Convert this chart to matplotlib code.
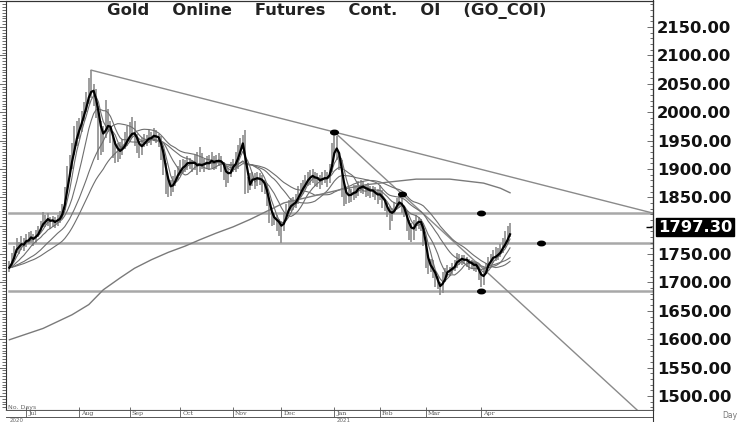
import numpy as np
import pandas as pd
import matplotlib
matplotlib.use("Agg")
import matplotlib.pyplot as plt
from matplotlib.path import Path
from matplotlib.transforms import Affine2D, blended_transform_factory
from matplotlib.lines import Line2D
from matplotlib.ticker import MultipleLocator

# ---- data (daily bars, Jun 2020 - Apr 2021) ----
holidays = ["2020-07-03", "2020-09-07", "2020-11-26", "2020-12-25",
            "2021-01-01", "2021-01-18", "2021-02-15", "2021-04-02"]
days = pd.bdate_range("2020-06-22", "2021-04-20")
days = days[~days.isin(pd.to_datetime(holidays))]

closes = [
    1726, 1748, 1757, 1768, 1762, 1772, 1766, 1780, 1776, 1782,
    1773, 1786, 1795, 1800, 1812, 1808, 1815, 1803, 1810, 1806,
    1812, 1818, 1830, 1860, 1895, 1905, 1935, 1955, 1968, 1978,
    1992, 2010, 2022, 2045, 2040, 2028, 2002, 1975, 1950, 1962,
    1990, 1975, 1958, 1944, 1930, 1935, 1930, 1940, 1952, 1955,
    1962, 1968, 1958, 1940, 1935, 1945, 1952, 1950, 1958, 1955,
    1962, 1955, 1950, 1930, 1905, 1875, 1868, 1865, 1880, 1890,
    1895, 1900, 1910, 1905, 1915, 1912, 1905, 1915, 1900, 1908,
    1912, 1905, 1915, 1910, 1918, 1908, 1915, 1920, 1905, 1902,
    1880, 1895, 1905, 1910, 1910, 1935, 1948, 1952, 1862, 1875,
    1880, 1888, 1878, 1885, 1885, 1872, 1868, 1848, 1818, 1812,
    1815, 1805, 1800, 1795, 1815, 1830, 1835, 1838, 1840, 1845,
    1860, 1865, 1870, 1880, 1888, 1885, 1890, 1880, 1882, 1878,
    1885, 1888, 1878, 1900, 1935, 1948, 1925, 1910, 1870, 1850,
    1855, 1856, 1852, 1865, 1860, 1870, 1872, 1865, 1862, 1866,
    1858, 1862, 1855, 1848, 1862, 1840, 1832, 1828, 1815, 1825,
    1838, 1840, 1845, 1830, 1822, 1805, 1790, 1795, 1800, 1812,
    1808, 1800, 1775, 1735, 1722, 1735, 1715, 1700, 1698, 1683,
    1712, 1720, 1722, 1720, 1730, 1732, 1745, 1738, 1742, 1740,
    1738, 1730, 1735, 1728, 1730, 1712, 1700, 1722, 1728, 1740,
    1742, 1748, 1745, 1752, 1760, 1768, 1772, 1785, 1797.3,
]
highs = [
    1738, 1752, 1765, 1779, 1772, 1782, 1778, 1786, 1788, 1790,
    1786, 1792, 1800, 1808, 1824, 1818, 1822, 1816, 1817, 1815,
    1818, 1825, 1838, 1868, 1905, 1925, 1945, 1975, 1985, 1990,
    2002, 2018, 2035, 2060, 2074, 2050, 2040, 2010, 1985, 1975,
    2021, 2005, 1985, 1960, 1950, 1945, 1948, 1952, 1965, 1975,
    1982, 1992, 1985, 1962, 1950, 1955, 1962, 1960, 1968, 1965,
    1972, 1968, 1962, 1958, 1935, 1910, 1885, 1880, 1888, 1898,
    1905, 1915, 1918, 1915, 1922, 1920, 1916, 1925, 1930, 1939,
    1928, 1918, 1922, 1925, 1930, 1922, 1925, 1928, 1922, 1912,
    1905, 1902, 1912, 1918, 1930, 1942, 1955, 1960, 1969, 1885,
    1892, 1895, 1892, 1895, 1892, 1890, 1880, 1875, 1845, 1825,
    1822, 1818, 1812, 1808, 1822, 1838, 1845, 1848, 1850, 1855,
    1870, 1875, 1880, 1890, 1895, 1898, 1900, 1895, 1892, 1890,
    1895, 1898, 1895, 1908, 1945, 1965, 1958, 1930, 1915, 1875,
    1865, 1868, 1865, 1872, 1872, 1878, 1880, 1878, 1872, 1875,
    1870, 1870, 1868, 1865, 1872, 1862, 1845, 1840, 1835, 1832,
    1842, 1848, 1852, 1848, 1835, 1825, 1810, 1805, 1810, 1818,
    1815, 1812, 1805, 1780, 1745, 1742, 1740, 1720, 1712, 1700,
    1718, 1725, 1730, 1728, 1735, 1740, 1752, 1750, 1748, 1748,
    1745, 1742, 1740, 1738, 1736, 1732, 1718, 1728, 1735, 1745,
    1750, 1758, 1763, 1760, 1768, 1778, 1790, 1800, 1805,
]
lows = [
    1718, 1725, 1742, 1752, 1750, 1758, 1755, 1762, 1768, 1770,
    1765, 1770, 1780, 1790, 1798, 1798, 1800, 1795, 1798, 1796,
    1800, 1805, 1812, 1828, 1858, 1885, 1900, 1925, 1940, 1952,
    1965, 1985, 2000, 2015, 2025, 2010, 1990, 1916, 1925, 1930,
    1955, 1965, 1945, 1920, 1910, 1912, 1918, 1925, 1935, 1940,
    1948, 1955, 1940, 1928, 1920, 1925, 1938, 1940, 1945, 1942,
    1950, 1945, 1938, 1915, 1890, 1855, 1851, 1852, 1860, 1870,
    1880, 1888, 1892, 1895, 1898, 1900, 1895, 1898, 1890, 1895,
    1900, 1895, 1900, 1898, 1902, 1898, 1900, 1905, 1895, 1880,
    1868, 1875, 1885, 1895, 1895, 1900, 1925, 1935, 1855, 1858,
    1862, 1870, 1865, 1870, 1872, 1860, 1855, 1835, 1805, 1800,
    1802, 1790, 1782, 1770, 1790, 1810, 1820, 1825, 1828, 1832,
    1838, 1850, 1855, 1862, 1870, 1872, 1875, 1870, 1868, 1865,
    1872, 1875, 1868, 1875, 1895, 1925, 1915, 1898, 1850, 1835,
    1838, 1840, 1842, 1845, 1848, 1852, 1858, 1855, 1850, 1852,
    1848, 1850, 1845, 1838, 1845, 1832, 1825, 1815, 1792, 1808,
    1820, 1830, 1832, 1822, 1815, 1790, 1775, 1772, 1775, 1790,
    1795, 1790, 1765, 1725, 1715, 1718, 1708, 1692, 1688, 1678,
    1682, 1700, 1710, 1712, 1715, 1720, 1725, 1730, 1730, 1732,
    1728, 1722, 1725, 1720, 1718, 1705, 1692, 1695, 1718, 1725,
    1730, 1735, 1738, 1740, 1745, 1752, 1760, 1768, 1780,
]

# long (200 day) average, read at a few bars
ma200_idx = [0, 14, 26, 33, 39, 46, 52, 59, 66, 73, 79, 86, 93, 100,
             114, 128, 137, 148, 158, 169, 183, 197, 204, 208]
ma200_val = [1599, 1619, 1643, 1661, 1687, 1708, 1725, 1740, 1753, 1764,
             1775, 1787, 1798, 1811, 1840, 1854, 1863, 1872, 1877, 1882,
             1882, 1875, 1866, 1858]

levels = [1822.5, 1769.7, 1685.2]
top_line = [(34, 2074), (135, 1965)]
steep_line = [(135, 1965), (163, 1856)]
dot_x = [135, 163, 196, 196, 221]
dot_y = [1965, 1856, 1822.5, 1685.2, 1769.7]

price_ticks = [1500, 1550, 1600, 1650, 1700, 1750, 1850,
               1900, 1950, 2000, 2050, 2100, 2150]
last_price = 1797.30
title = "Gold    Online    Futures    Cont.    OI    (GO_COI)"

# ---- layout helpers (pixel coords of a 750x422 image) ----
W, H = 750, 422


def fx(px):
    return px / W


def fy(py):
    return 1 - py / H


def sma(vals, n):
    # simple average, the days before the first bar taken as the first close
    s = pd.Series([vals[0]] * n + list(vals))
    return s.rolling(n).mean().iloc[n:].to_numpy()


x = np.arange(len(closes))
xmin, xmax = -1.4, 267.4
ymin, ymax = 1475.3, 2195.8

fig = plt.figure(figsize=(7.5, 4.22), dpi=100)
ax = fig.add_axes([fx(6), fy(410), fx(653) - fx(6), fy(1) - fy(410)])
ax.set_xlim(xmin, xmax)
ax.set_ylim(ymin, ymax)

# support / resistance levels
for lv in levels:
    ax.plot([0, xmax], [lv, lv], color="#a8a8a8", lw=1.8, zorder=1)


# trend lines
def trend(p0, p1):
    slope = (p1[1] - p0[1]) / (p1[0] - p0[0])
    return [p0[0], xmax], [p0[1], p0[1] + slope * (xmax - p0[0])]


for seg in (top_line, steep_line):
    tx, ty = trend(*seg)
    ax.plot(tx, ty, color="#8a8a8a", lw=1.0, zorder=2)

# daily bars
ax.vlines(x, lows, highs, color="#8c8c8c", lw=1.2, zorder=3)

# moving averages
for n in (30, 20, 10, 5):
    ax.plot(x, sma(closes, n), color="#6e6e6e", lw=0.8, zorder=4)
ax.plot(ma200_idx, ma200_val, color="#7a7a7a", lw=1.0, zorder=4)
ax.plot(x, sma(closes, 3), color="black", lw=1.6, zorder=5)

# black dots
ell = Path.unit_circle().transformed(Affine2D().scale(1.7, 1.0))
ax.plot(dot_x, dot_y, ls="none", marker=ell, ms=5.5, color="black", zorder=6)
ax.plot([xmax - 1.5], [last_price], marker="_", ms=4, mew=1.0,
        color="black", clip_on=False, zorder=6)

# left ruler
ax.set_xticks([])
ax.yaxis.set_major_locator(MultipleLocator(50))
ax.yaxis.set_minor_locator(MultipleLocator(5))
ax.tick_params(axis="y", which="both", left=True, right=False,
               labelleft=False, direction="out", color="#555555", width=0.6)
ax.tick_params(axis="y", which="major", length=5)
ax.tick_params(axis="y", which="minor", length=3)
for sp in ax.spines.values():
    sp.set_color("#333333")
    sp.set_linewidth(0.8)

# right price scale
ax2 = ax.twinx()
ax2.set_ylim(ymin, ymax)
ax2.set_yticks(price_ticks)
ax2.set_yticklabels([f"{p:.2f}" for p in price_ticks])
ax2.yaxis.set_minor_locator(MultipleLocator(10))
ax2.tick_params(axis="y", which="both", direction="in", color="#555555",
                width=0.6, pad=3)
ax2.tick_params(axis="y", which="major", length=4, labelsize=11.8)
ax2.tick_params(axis="y", which="minor", length=2)
for lab in ax2.get_yticklabels():
    lab.set_fontweight("bold")
    lab.set_color("#111111")
for name, sp in ax2.spines.items():
    sp.set_visible(name == "right")
ax2.spines["right"].set_color("#333333")

ax2.annotate(f"{last_price:.2f}", xy=(1, last_price),
             xycoords=("axes fraction", "data"), xytext=(3.5, 0),
             textcoords="offset points", va="center", ha="left",
             fontsize=11.8, fontweight="bold", color="white",
             bbox=dict(boxstyle="square,pad=0.1", fc="black", ec="black"),
             annotation_clip=False)

# title
fig.text(fx(327), fy(11), title, ha="center", va="center", fontsize=11.8,
         fontweight="bold", color="#222222")

# date strip
axd = fig.add_axes([fx(6), fy(417), fx(653) - fx(6), fy(410) - fy(417)])
axd.set_xlim(xmin, xmax)
axd.set_ylim(0, 1)
axd.set_yticks([])
month_idx = []
month_lab = []
for i in range(1, len(days)):
    if days[i].month != days[i - 1].month:
        month_idx.append(i)
        month_lab.append(days[i].strftime("%b"))
axd.set_xticks(month_idx)
axd.set_xticklabels([])
axd.tick_params(axis="x", direction="in", length=7, width=0.6,
                color="#555555")
for name, sp in axd.spines.items():
    sp.set_color("#555555")
    sp.set_linewidth(0.7)
    if name in ("left", "right"):
        sp.set_visible(False)
for mi, ml in zip(month_idx, month_lab):
    axd.text(mi + 0.8, 0.45, ml, fontsize=4.5, color="#555555",
             family="DejaVu Serif", va="center", ha="left")

yr_tr = blended_transform_factory(axd.transData, fig.transFigure)
axd.text(0, fy(420), "2020", transform=yr_tr, fontsize=4, color="#666666",
         va="center", ha="left")
jan = [mi for mi, ml in zip(month_idx, month_lab) if ml == "Jan"][0]
axd.text(jan + 0.8, fy(420), "2021", transform=yr_tr, fontsize=4,
         color="#666666", va="center", ha="left")

fig.text(fx(8), fy(407), "No. Days", fontsize=4.5, color="#666666",
         va="center", ha="left")
fig.text(fx(730), fy(415.5), "Day", fontsize=5.5, color="#777777",
         va="center", ha="center")

# panel divider and borders
fig.add_artist(Line2D([fx(653), fx(653)], [0, 1], color="#333333", lw=0.8))
fig.add_artist(Line2D([0, fx(653)], [fy(0.5), fy(0.5)], color="#333333",
                      lw=0.8))

fig.savefig("out.png", dpi=100)
